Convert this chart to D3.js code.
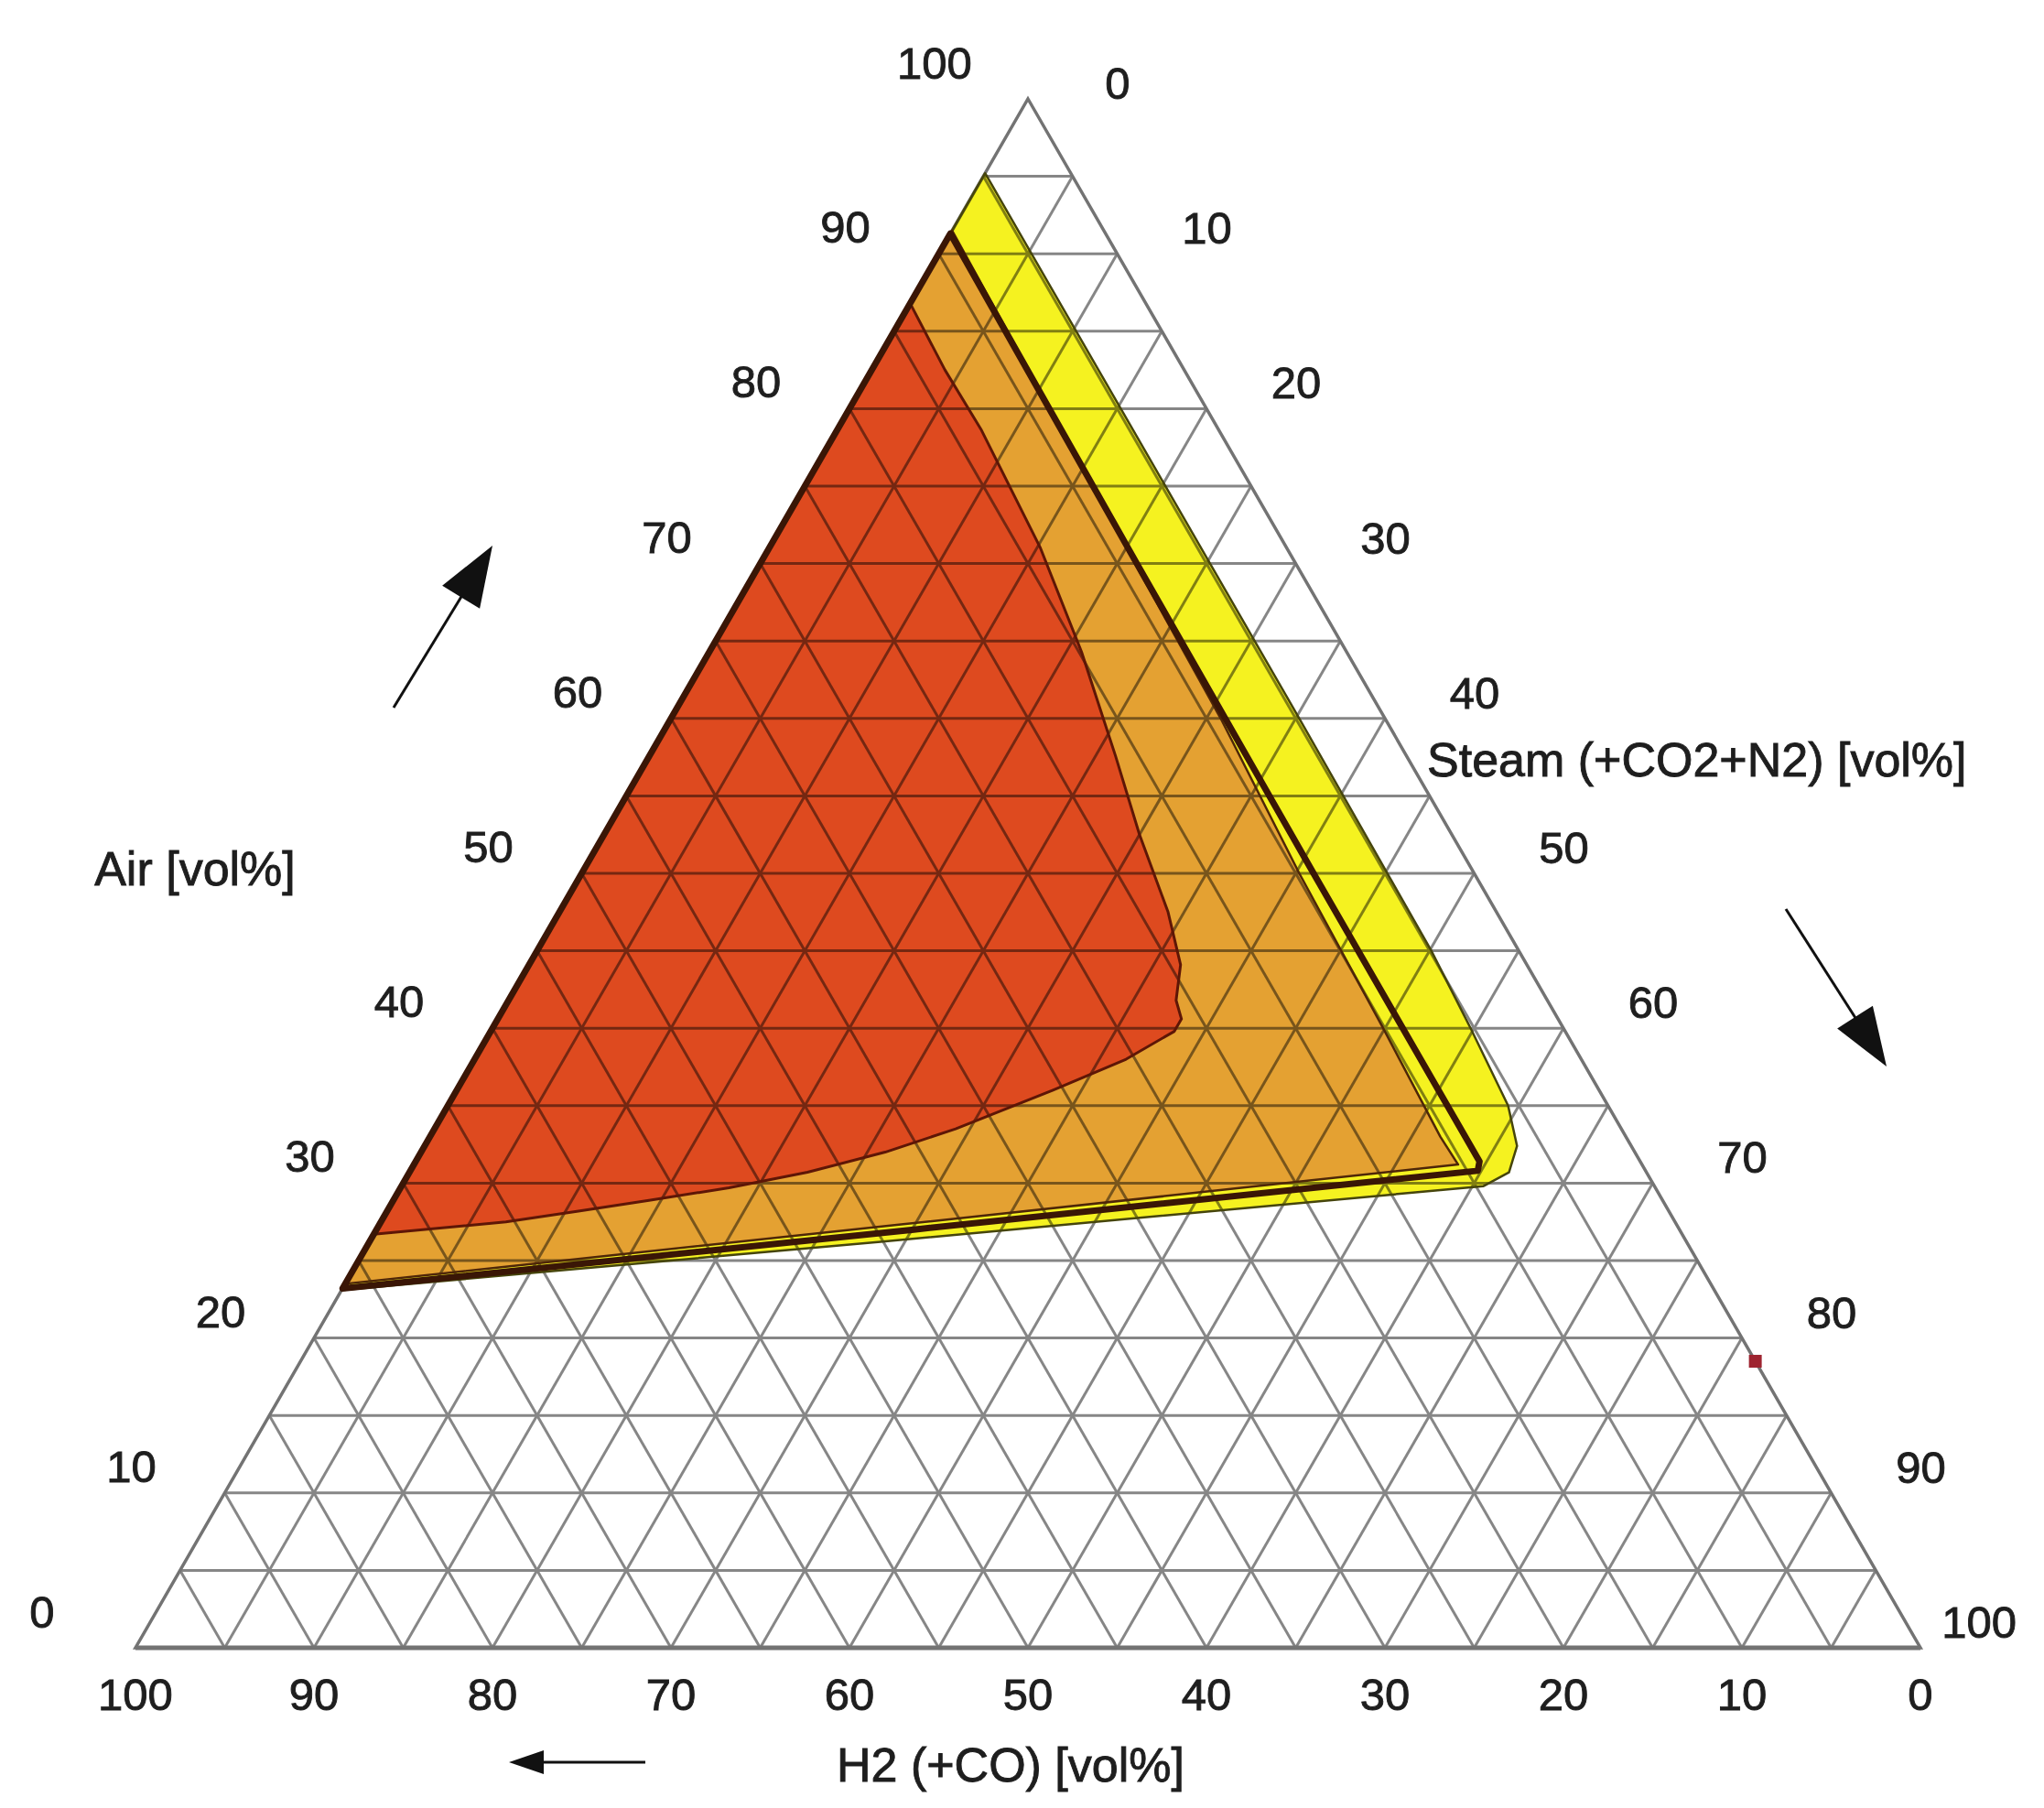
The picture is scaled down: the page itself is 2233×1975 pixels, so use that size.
<!DOCTYPE html>
<html>
<head>
<meta charset="utf-8">
<script src="https://cdn.jsdelivr.net/npm/d3@7"></script>
<style>
  body { margin: 0; background: #ffffff; }
  svg { display: block; }
</style>
</head>
<body>
<script>
// ---------------- DATA (ternary compositions: [Air, Steam, H2] in vol%) ----------------
const tickValues = [0, 10, 20, 30, 40, 50, 60, 70, 80, 90, 100];
const gridValues = [5, 10, 15, 20, 25, 30, 35, 40, 45, 50, 55, 60, 65, 70, 75, 80, 85, 90, 95];
const axisAir = "Air [vol%]";
const axisSteam = "Steam (+CO2+N2) [vol%]";
const axisH2 = "H2 (+CO) [vol%]";

// outer (yellow) region
const yellowRegion = [
  [95.2, 0, 4.8], [80, 15.2, 4.8], [60, 35.2, 4.8], [45, 50.1, 4.9], [40, 54.8, 5.2],
  [35, 59.4, 5.6], [32.4, 61.2, 6.4], [30.7, 61.6, 7.7], [29.8, 60.6, 9.6],
  [29.4, 57.0, 13.6], [26.2, 28.5, 45.3], [23.1, 0, 76.9]
];
// middle (orange) region
const orangeRegion = [
  [91.5, 0, 8.5], [70, 21.0, 9.0], [60, 30.8, 9.2], [50, 40.2, 9.8], [40, 49.9, 10.1],
  [33, 56.6, 10.4], [31.2, 58.5, 10.3], [27.3, 29.0, 43.7], [23.5, 0, 76.5]
];
// inner (red) region
const redRegion = [
  [86.8, 0, 13.2], [82.5, 4.1, 13.4], [78.6, 8.1, 13.3], [71, 15.2, 13.8], [64.3, 20.85, 14.85],
  [57.6, 26.1, 16.3], [52.5, 30.0, 17.5], [47.5, 34.1, 18.4], [44.1, 36.5, 19.4],
  [41.8, 37.4, 20.8], [40.6, 38.3, 21.1], [39.8, 38.3, 21.9], [38.0, 36.5, 25.5],
  [36.0, 33.4, 30.6], [33.5, 29.2, 37.3], [32.0, 26.0, 42.0], [30.7, 22.3, 47.0],
  [29.7, 18.4, 51.9], [28.9, 14.4, 56.7], [28.2, 10.8, 61.0], [27.5, 7.0, 65.5], [26.7, 0, 73.3]
];
// thick dark boundary (closed along the Air axis)
const boundaryLine = [
  [91.3, 0, 8.7], [70, 21.1, 8.9], [50, 41.0, 9.0], [40, 51.0, 9.0], [31.4, 59.6, 9.0],
  [30.8, 59.8, 9.4], [27.0, 30.1, 42.9], [23.2, 0, 76.8]
];
// single marked point on the Steam axis
const markerPoints = [[18.5, 81.5, 0]];

// ---------------- LAYOUT ----------------
const W = 2233, H = 1975;
const FONT = "'Liberation Sans', Arial, Helvetica, sans-serif";
const svg = d3.select("body").append("svg").attr("width", W).attr("height", H);

// x uses (Steam + Air/2), y uses Air
const xScale = d3.scaleLinear().domain([0, 100]).range([148, 2098]);
const yScale = d3.scaleLinear().domain([0, 100]).range([1800, 108]);
const px = d => xScale(d[1] + d[0] / 2);
const py = d => yScale(d[0]);
const path = d3.line().x(px).y(py);

// ---- fills ----
const fills = svg.append("g");
fills.append("path").attr("d", path(yellowRegion) + "Z").attr("fill", "#f5f220");
fills.append("path").attr("d", path(orangeRegion) + "Z").attr("fill", "#e4a132");
fills.append("path").attr("d", path(redRegion) + "Z").attr("fill", "#de4a1f");

// ---- grid (multiplied over fills) ----
const gridSegs = [];
gridValues.forEach(v => {
  gridSegs.push([[v, 0, 100 - v], [v, 100 - v, 0]]);     // constant Air
  gridSegs.push([[0, v, 100 - v], [100 - v, v, 0]]);     // constant Steam
  gridSegs.push([[0, 100 - v, v], [100 - v, 0, v]]);     // constant H2
});
const grid = svg.append("g").style("mix-blend-mode", "multiply");
grid.selectAll("path.g").data(gridSegs).join("path")
  .attr("class", "g").attr("d", path)
  .attr("stroke", "#868686").attr("stroke-width", 3).attr("fill", "none");
const outer = [[100, 0, 0], [0, 100, 0], [0, 0, 100]];
grid.append("path").attr("d", path(outer) + "Z")
  .attr("fill", "none").attr("stroke", "#737373").attr("stroke-width", 3.5)
  .attr("stroke-linejoin", "miter");
grid.append("path").attr("d", path([[0, 100, 0], [0, 0, 100]]))
  .attr("fill", "none").attr("stroke", "#737373").attr("stroke-width", 5);

// ---- outlines ----
const outl = svg.append("g").attr("fill", "none").attr("stroke-linejoin", "round");
outl.append("path").attr("d", path(yellowRegion) + "Z").attr("stroke", "#46450c").attr("stroke-width", 2.5);
outl.append("path").attr("d", path(orangeRegion) + "Z").attr("stroke", "#4e2608").attr("stroke-width", 2.5);
outl.append("path").attr("d", path(redRegion) + "Z").attr("stroke", "#5e1606").attr("stroke-width", 3);
outl.append("path").attr("d", path(boundaryLine) + "Z").attr("stroke", "#3a1606").attr("stroke-width", 7);

// ---- marker ----
svg.selectAll("rect.m").data(markerPoints).join("rect")
  .attr("class", "m")
  .attr("x", d => px(d) - 7).attr("y", d => py(d) - 7)
  .attr("width", 14).attr("height", 14).attr("fill", "#9e2430");

// ---- tick labels ----
const tickG = svg.append("g").attr("font-family", FONT).attr("font-size", 49)
  .attr("fill", "#1e1e1e").attr("stroke", "#1e1e1e").attr("stroke-width", 0.9);
// Air: left edge (Steam = 0)
tickG.selectAll("text.air").data(tickValues).join("text")
  .attr("class", "air").attr("text-anchor", "middle")
  .attr("x", v => px([v, 0, 100 - v]) - 102)
  .attr("y", v => py([v, 0, 100 - v]) - (v === 0 || v === 100 ? 22 : 12))
  .text(v => v);
// Steam: right edge (H2 = 0)
tickG.selectAll("text.steam").data(tickValues).join("text")
  .attr("class", "steam").attr("text-anchor", "middle")
  .attr("x", v => px([100 - v, v, 0]) + 98)
  .attr("y", v => py([100 - v, v, 0]) - (v === 0 ? 0 : 11))
  .text(v => v)
  .each(function () {
    const t = d3.select(this);
    const w = this.getComputedTextLength();
    const x = +t.attr("x");
    if (x + w / 2 > W - 30) t.attr("x", W - 30 - w / 2);
  });
// H2: bottom edge (Air = 0)
tickG.selectAll("text.h2").data(tickValues).join("text")
  .attr("class", "h2").attr("text-anchor", "middle")
  .attr("x", v => px([0, 100 - v, v]))
  .attr("y", v => py([0, 100 - v, v]) + 68)
  .text(v => v);

// ---- axis titles ----
const titles = svg.append("g").attr("font-family", FONT).attr("font-size", 52)
  .attr("fill", "#1e1e1e").attr("stroke", "#1e1e1e").attr("stroke-width", 0.9);
titles.append("text").attr("x", 213).attr("y", 967).attr("text-anchor", "middle").text(axisAir);
titles.append("text").attr("x", 1559).attr("y", 848).attr("text-anchor", "start").text(axisSteam);
titles.append("text").attr("x", 1104).attr("y", 1946).attr("text-anchor", "middle").text(axisH2);

// ---- direction arrows ----
const arrows = [
  { from: [430, 773], to: [538, 596], head: 66, half: 24 },
  { from: [1951, 993], to: [2061, 1165], head: 64, half: 23 },
  { from: [705, 1925], to: [556, 1925], head: 38, half: 13 }
];
const ag = svg.append("g");
arrows.forEach(a => {
  const dx = a.to[0] - a.from[0], dy = a.to[1] - a.from[1];
  const L = Math.hypot(dx, dy), ux = dx / L, uy = dy / L;
  const bx = a.to[0] - ux * a.head, by = a.to[1] - uy * a.head;
  ag.append("line").attr("x1", a.from[0]).attr("y1", a.from[1])
    .attr("x2", bx + ux * 4).attr("y2", by + uy * 4)
    .attr("stroke", "#111").attr("stroke-width", 3);
  const p = d3.path();
  p.moveTo(a.to[0], a.to[1]);
  p.lineTo(bx - uy * a.half, by + ux * a.half);
  p.lineTo(bx + uy * a.half, by - ux * a.half);
  p.closePath();
  ag.append("path").attr("d", p.toString()).attr("fill", "#111");
});
</script>
</body>
</html>
